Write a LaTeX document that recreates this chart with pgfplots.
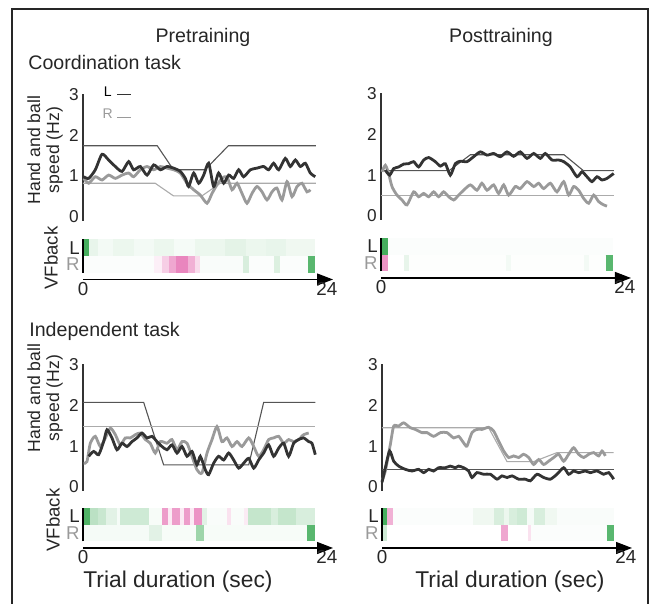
\documentclass[border=0pt]{standalone}
\usepackage{fontspec}
\setmainfont{Liberation Sans}
\usepackage{pgfplots}
\pgfplotsset{compat=1.18}
\usetikzlibrary{arrows.meta}

\definecolor{txt}{HTML}{262626}
\definecolor{dk}{HTML}{333333}
\definecolor{lt}{HTML}{9A9A9A}
\definecolor{dktgt}{HTML}{555555}
\definecolor{lttgt}{HTML}{ABABAB}

\pgfplotsset{
  every axis/.append style={font=\fontsize{8.6}{9}\selectfont,
    /pgf/number format/assume math mode=true},
  % upper part of each panel: speed traces
  speedax/.style={anchor=south west, scale only axis,
    width=122pt, height=63.25pt,
    xmin=0, xmax=24, ymin=-0.1, ymax=3,
    hide x axis, axis y line*=left,
    y axis line style={line width=0.6pt, color=dk},
    ytick={0,1,2,3}, major tick length=0pt,
    yticklabel style={inner sep=2pt, text=txt},
    clip=false},
  % lower part: visual feedback strip
  heatax/.style={anchor=south west, scale only axis,
    width=125pt, height=20pt,
    xmin=0, xmax=24.6, ymin=-0.9, ymax=1.5,
    axis x line*=bottom, axis y line*=left,
    y axis line style={draw=none},
    x axis line style={line width=0.6pt, color=black, -{Triangle[length=8pt,width=6pt]}},
    xtick={0,24}, ytick={0,1}, yticklabels={\textcolor{lt}{R},L},
    major tick length=0pt,
    xticklabel style={inner sep=1pt, text=txt, font=\fontsize{9.4}{10}\selectfont},
    yticklabel style={inner sep=1.5pt, text=txt, font=\fontsize{9.3}{10}\selectfont},
    colormap={pg}{rgb255=(220,60,150) rgb255=(255,255,255) rgb255=(60,170,85)},
    point meta min=-1, point meta max=1,
    clip=false},
  strip/.style={mesh, shader=flat mean, line width=8.4pt, point meta=explicit, forget plot},
  dkspeed/.style={color=dk, line width=1.4pt, smooth, tension=0.4, forget plot},
  ltspeed/.style={color=lt, line width=1.4pt, smooth, tension=0.4, forget plot},
  dktarget/.style={color=dktgt, line width=0.55pt, sharp plot, forget plot},
  lttarget/.style={color=lttgt, line width=0.55pt, sharp plot, forget plot},
}

\begin{document}
\begin{tikzpicture}[x=0.5pt, y=0.5pt]
\useasboundingbox (0,0) rectangle (650,604);
\draw[line width=1pt, color=txt] (12,-4) -- (12,594.5) -- (648,594.5) -- (648,-4);

\node[anchor=base, text=txt, font=\fontsize{9.8}{10}\selectfont] at (203,561.7) {Pretraining};
\node[anchor=base, text=txt, font=\fontsize{9.8}{10}\selectfont] at (501,561.7) {Posttraining};
\node[anchor=base west, inner sep=0pt, text=txt, font=\fontsize{9.8}{10}\selectfont] at (28,534) {Coordination task};
\node[anchor=base west, inner sep=0pt, text=txt, font=\fontsize{9.8}{10}\selectfont] at (29,267) {Independent task};
\node[anchor=base, text=txt, font=\fontsize{11.4}{12}\selectfont] at (178,16) {Trial duration (sec)};
\node[anchor=base, text=txt, font=\fontsize{11.4}{12}\selectfont] at (510,16) {Trial duration (sec)};
\node[rotate=90, align=center, text=txt, font=\fontsize{8.8}{9.5}\selectfont] at (45,454) {Hand and ball\\speed (Hz)};
\node[rotate=90, align=center, text=txt, font=\fontsize{8.8}{9.5}\selectfont] at (45,206) {Hand and ball\\speed (Hz)};
\node[rotate=90, text=txt, font=\fontsize{9.3}{10}\selectfont] at (51,346) {VFback};
\node[rotate=90, text=txt, font=\fontsize{9.3}{10}\selectfont] at (53,84) {VFback};

% ---------------- Coordination task, pretraining ----------------
\begin{axis}[speedax, at={(41.5pt,191.6pt)},
  legend plot pos=right,
  legend image code/.code={\draw[#1] (0pt,-1pt) -- (7pt,-1pt);},
  legend style={at={(axis cs:1.5,3.3)}, anchor=north west, draw=none, fill=none,
    inner sep=0pt, row sep=1pt, font=\fontsize{7}{7.5}\selectfont}]
\addplot[dktarget] coordinates {(0,1.74) (7.3,1.74) (8.9,1.15) (12.0,1.15) (14.3,1.74) (22.9,1.74)};
\addplot[lttarget] coordinates {(0,0.82) (7.1,0.82) (8.9,0.51) (11.7,0.51) (13.5,0.82) (22.9,0.82)};
\addplot[ltspeed] coordinates {
(0.07,0.94) (0.56,0.82) (1.21,0.98) (1.87,0.90) (2.52,1.02) (3.18,0.94) (3.84,1.02) (4.49,1.07)
(4.98,0.98) (5.64,1.15) (6.30,1.23) (6.95,1.15) (7.61,1.23) (8.26,1.19) (8.92,1.15) (9.57,1.07)
(10.23,0.82) (10.89,0.66) (11.54,0.53) (12.20,0.33) (12.69,0.57) (13.18,0.78) (13.67,0.94) (14.16,0.98)
(14.66,0.66) (15.15,0.82) (15.64,0.57) (16.13,0.33) (16.62,0.57) (17.11,0.74) (17.61,0.61) (18.10,0.41)
(18.59,0.61) (19.08,0.70) (19.57,0.41) (20.07,0.86) (20.56,0.49) (21.05,0.74) (21.54,0.82) (22.03,0.61)
(22.36,0.66)};
\addplot[dkspeed] coordinates {
(0.07,0.98) (0.56,0.94) (1.21,1.15) (1.87,1.53) (2.52,1.39) (3.18,1.23) (3.84,1.11) (4.49,1.35)
(4.98,1.15) (5.64,1.23) (6.30,1.02) (6.95,1.27) (7.61,1.15) (8.26,1.23) (8.92,1.19) (9.57,1.11)
(10.07,0.94) (10.39,0.74) (10.89,1.07) (11.38,0.82) (11.87,1.02) (12.36,1.31) (12.85,0.74) (13.34,1.07)
(13.84,0.82) (14.33,1.02) (14.82,0.94) (15.31,1.15) (15.80,0.98) (16.46,1.15) (17.11,1.19) (17.77,1.23)
(18.26,1.15) (18.75,1.31) (19.25,1.15) (19.90,1.43) (20.39,1.23) (20.89,1.39) (21.38,1.23) (21.87,1.31)
(22.36,1.07) (22.85,0.98)};
\addlegendimage{color=dk, line width=0.6pt}
\addlegendentry{L}
\addlegendimage{color=lt, line width=0.6pt}
\addlegendentry{\textcolor{lt}{R}}
\end{axis}

\begin{axis}[heatax, at={(41.5pt,162.25pt)}]
\addplot[strip] coordinates {(0,1)[0.95] (0.6,1)[0.95] (0.6,1)[0.12] (1.5,1)[0.12] (1.5,1)[0.06] (3,1)[0.06]
 (3,1)[0.1] (5,1)[0.1] (5,1)[0.06] (7,1)[0.06] (7,1)[0.1] (9,1)[0.1] (9,1)[0.05] (11,1)[0.05]
 (11,1)[0.1] (14,1)[0.1] (14,1)[0.14] (16,1)[0.14] (16,1)[0.1] (18,1)[0.1] (18,1)[0.12] (20,1)[0.12]
 (20,1)[0.08] (22.8,1)[0.08]};
\addplot[strip] coordinates {(0,0)[0.02] (7,0)[0.02] (7,0)[-0.08] (7.8,0)[-0.08] (7.8,0)[-0.25] (8.5,0)[-0.25]
 (8.5,0)[-0.45] (9.2,0)[-0.45] (9.2,0)[-0.62] (10.3,0)[-0.62] (10.3,0)[-0.4] (11,0)[-0.4]
 (11,0)[-0.18] (11.5,0)[-0.18] (11.5,0)[0.03] (15.7,0)[0.03] (15.7,0)[0.2] (16.3,0)[0.2]
 (16.3,0)[0.02] (18.8,0)[0.02] (18.8,0)[0.18] (19.4,0)[0.18] (19.4,0)[0.02] (22.1,0)[0.02]
 (22.1,0)[0.85] (22.8,0)[0.85]};
\draw[line width=0.6pt] (axis cs:0,-0.5) -- (axis cs:0,1.5);
\end{axis}

% ---------------- Coordination task, posttraining ----------------
\begin{axis}[speedax, at={(190.5pt,192pt)}]
\addplot[dktarget] coordinates {(0,1.11) (6.7,1.11) (8.8,1.50) (18.0,1.50) (19.9,1.11) (22.9,1.11)};
\addplot[lttarget] coordinates {(0,0.49) (22.9,0.49)};
\addplot[ltspeed] coordinates {
(0.10,1.08) (0.43,1.24) (0.75,1.04) (1.08,0.72) (1.57,0.51) (2.07,0.39) (2.56,0.27) (3.21,0.59)
(3.70,0.47) (4.20,0.55) (4.69,0.47) (5.18,0.59) (5.67,0.47) (6.16,0.59) (6.66,0.47) (7.15,0.39)
(7.64,0.51) (8.13,0.63) (8.79,0.76) (9.44,0.63) (9.93,0.80) (10.43,0.63) (11.08,0.76) (11.57,0.55)
(12.07,0.76) (12.56,0.51) (13.21,0.72) (13.70,0.67) (14.36,0.84) (15.02,0.72) (15.51,0.80) (16.00,0.67)
(16.66,0.80) (17.31,0.59) (17.97,0.84) (18.46,0.51) (18.95,0.72) (19.44,0.63) (19.93,0.43) (20.43,0.31)
(20.92,0.51) (21.41,0.35) (21.90,0.27) (22.23,0.24)};
\addplot[dkspeed] coordinates {
(0.43,1.12) (0.85,1.00) (1.25,1.16) (1.74,1.20) (2.23,1.27) (2.72,1.28) (3.21,1.33) (3.70,1.20)
(4.20,1.37) (4.69,1.43) (5.34,1.33) (5.84,1.22) (6.33,1.28) (6.82,1.00) (7.31,1.28) (7.80,1.34)
(8.46,1.33) (9.11,1.45) (9.77,1.57) (10.43,1.49) (11.08,1.53) (11.74,1.45) (12.39,1.57) (13.05,1.46)
(13.70,1.57) (14.36,1.41) (15.02,1.53) (15.67,1.41) (16.16,1.53) (16.82,1.37) (17.48,1.37) (17.97,1.33)
(18.62,1.20) (19.28,0.96) (19.77,1.08) (20.26,0.96) (20.75,0.84) (21.25,0.96) (21.74,0.88) (22.23,0.92)
(22.89,1.04)};
\end{axis}

\begin{axis}[heatax, at={(190.5pt,163pt)}]
\addplot[strip] coordinates {(0,1)[0.95] (0.7,1)[0.95] (0.7,1)[0.02] (22.8,1)[0.02]};
\addplot[strip] coordinates {(0,0)[-0.55] (0.7,0)[-0.55] (0.7,0)[0] (2.3,0)[0] (2.3,0)[0.12] (2.8,0)[0.12]
 (2.8,0)[0.01] (12.3,0)[0.01] (12.3,0)[0.06] (12.8,0)[0.06] (12.8,0)[0.01] (20,0)[0.01]
 (20,0)[0.06] (20.5,0)[0.06] (20.5,0)[0.01] (22.1,0)[0.01] (22.1,0)[0.85] (22.8,0)[0.85]};
\draw[line width=0.6pt] (axis cs:0,-0.5) -- (axis cs:0,1.5);
\end{axis}

% ---------------- Independent task, pretraining ----------------
\begin{axis}[speedax, at={(41.5pt,56.5pt)}]
\addplot[dktarget] coordinates {(0,2.07) (5.97,2.07) (7.93,0.54) (16.30,0.54) (17.77,2.07) (22.85,2.07)};
\addplot[lttarget] coordinates {(0,1.47) (22.85,1.47)};
\addplot[ltspeed] coordinates {
(0.07,0.58) (0.39,0.62) (0.72,1.07) (1.21,1.24) (1.70,0.99) (2.20,1.20) (2.69,1.44) (3.18,1.28)
(3.67,1.03) (4.16,1.20) (4.66,1.20) (5.15,1.28) (5.64,1.32) (6.13,1.16) (6.62,1.07) (7.11,0.83)
(7.61,1.11) (8.26,1.07) (8.75,1.16) (9.25,0.91) (9.74,1.11) (10.23,1.07) (10.72,0.75) (11.21,0.42)
(11.70,0.34) (12.20,0.83) (12.69,1.16) (13.18,1.48) (13.67,1.11) (14.16,1.20) (14.66,0.99) (15.15,1.11)
(15.64,0.99) (16.30,1.20) (16.79,0.99) (17.28,0.75) (17.77,0.91) (18.26,1.16) (18.75,1.20) (19.25,1.24)
(19.74,1.07) (20.23,1.16) (20.72,1.11) (21.21,1.16) (21.70,1.28) (22.20,1.32)};
\addplot[dkspeed] coordinates {
(0.56,0.75) (1.05,0.87) (1.54,0.79) (2.03,1.11) (2.36,1.40) (2.85,1.20) (3.34,0.91) (3.84,1.07)
(4.33,0.99) (4.82,1.11) (5.31,1.20) (5.80,1.32) (6.30,1.20) (6.79,1.24) (7.28,1.11) (7.77,0.99)
(8.26,0.91) (8.75,1.03) (9.25,0.83) (9.74,0.99) (10.23,0.75) (10.72,0.87) (11.21,0.54) (11.54,0.75)
(12.03,0.42) (12.36,0.30) (12.85,0.58) (13.34,0.75) (13.84,0.66) (14.33,0.83) (14.82,0.66) (15.31,0.46)
(15.80,0.58) (16.30,0.70) (16.79,0.46) (17.28,0.66) (17.77,0.83) (18.26,1.03) (18.75,0.75) (19.25,0.95)
(19.74,1.07) (20.23,0.75) (20.72,1.07) (21.21,1.16) (21.70,1.20) (22.20,1.11) (22.52,1.07) (22.85,0.79)};
\end{axis}

\begin{axis}[heatax, at={(41.5pt,28pt)}]
\addplot[strip] coordinates {(0,1)[0.9] (0.7,1)[0.9] (0.7,1)[0.35] (1.5,1)[0.35] (1.5,1)[0.28] (2.3,1)[0.28]
 (2.3,1)[0.15] (3.3,1)[0.15] (3.3,1)[0.05] (3.6,1)[0.05] (3.6,1)[0.25] (6.5,1)[0.25]
 (6.5,1)[0.04] (7.8,1)[0.04] (7.8,1)[-0.5] (8.4,1)[-0.5] (8.4,1)[-0.1] (8.8,1)[-0.1]
 (8.8,1)[-0.5] (9.5,1)[-0.5] (9.5,1)[-0.1] (9.9,1)[-0.1] (9.9,1)[-0.5] (10.5,1)[-0.5]
 (10.5,1)[-0.1] (10.9,1)[-0.1] (10.9,1)[-0.55] (11.7,1)[-0.55] (11.7,1)[0.15] (12.2,1)[0.15]
 (12.2,1)[0.03] (14.2,1)[0.03] (14.2,1)[-0.15] (14.6,1)[-0.15] (14.6,1)[0.03] (15.8,1)[0.03]
 (15.8,1)[-0.1] (16.2,1)[-0.1] (16.2,1)[0.3] (18.5,1)[0.3] (18.5,1)[0.2] (19.2,1)[0.2]
 (19.2,1)[0.3] (21,1)[0.3] (21,1)[0.2] (22.8,1)[0.2]};
\addplot[strip] coordinates {(0,0)[0.05] (6.5,0)[0.05] (6.5,0)[0.15] (7.8,0)[0.15] (7.8,0)[0.04] (11.1,0)[0.04]
 (11.1,0)[0.5] (11.9,0)[0.5] (11.9,0)[0.04] (22,0)[0.04] (22,0)[0.85] (22.85,0)[0.85]};
\draw[line width=0.6pt] (axis cs:0,-0.5) -- (axis cs:0,1.5);
\end{axis}

% ---------------- Independent task, posttraining ----------------
\begin{axis}[speedax, at={(191pt,56.5pt)}]
\addplot[lttarget] coordinates {(0,1.45) (10.49,1.45) (12.30,0.62) (14.92,0.62) (17.21,0.84) (22.79,0.84)};
\addplot[dktarget] coordinates {(0,0.43) (22.79,0.43)};
\addplot[ltspeed] coordinates {
(0.00,0.15) (0.33,0.39) (0.82,1.04) (1.15,1.49) (1.64,1.49) (2.13,1.57) (2.79,1.45) (3.28,1.41)
(3.93,1.33) (4.43,1.33) (5.08,1.24) (5.74,1.33) (6.39,1.33) (7.05,1.20) (7.54,1.24) (8.03,1.08)
(8.36,1.00) (8.85,1.33) (9.34,1.41) (9.84,1.41) (10.49,1.46) (10.98,1.37) (11.48,1.12) (11.97,0.88)
(12.46,0.72) (12.95,0.76) (13.44,0.72) (13.93,0.80) (14.43,0.72) (14.92,0.55) (15.41,0.67) (15.90,0.55)
(16.39,0.63) (16.89,0.72) (17.38,0.80) (17.87,0.63) (18.36,0.80) (18.85,0.96) (19.34,0.80) (19.84,0.72)
(20.33,0.80) (20.82,0.84) (21.31,0.76) (21.64,0.88) (21.97,0.76)};
\addplot[dkspeed] coordinates {
(0.00,0.11) (0.33,0.47) (0.75,0.88) (1.15,0.63) (1.64,0.51) (2.30,0.43) (2.95,0.39) (3.61,0.43)
(4.10,0.35) (4.59,0.43) (5.08,0.39) (5.57,0.47) (6.23,0.47) (6.72,0.51) (7.21,0.47) (7.54,0.51)
(8.03,0.47) (8.52,0.39) (8.85,0.23) (9.34,0.35) (10.00,0.31) (10.66,0.31) (11.31,0.19) (11.80,0.27)
(12.30,0.23) (12.79,0.27) (13.44,0.19) (14.10,0.19) (14.59,0.15) (15.25,0.31) (15.90,0.23) (16.56,0.19)
(17.21,0.31) (17.87,0.47) (18.36,0.31) (18.85,0.39) (19.34,0.35) (20.00,0.39) (20.49,0.35) (21.15,0.39)
(21.80,0.31) (22.30,0.35) (22.79,0.19)};
\end{axis}

\begin{axis}[heatax, at={(191pt,28pt)}]
\addplot[strip] coordinates {(0,1)[0.95] (0.5,1)[0.95] (0.5,1)[-0.4] (1.1,1)[-0.4] (1.1,1)[0.02] (9,1)[0.02]
 (9,1)[0.08] (11,1)[0.08] (11,1)[0.2] (12,1)[0.2] (12,1)[0.1] (12.5,1)[0.1] (12.5,1)[0.2] (13.3,1)[0.2]
 (13.3,1)[0.25] (14.3,1)[0.25] (14.3,1)[0.05] (15,1)[0.05] (15,1)[0.2] (16,1)[0.2] (16,1)[0.08] (17.2,1)[0.08]
 (17.2,1)[0.03] (22.8,1)[0.03]};
\addplot[strip] coordinates {(0,0)[0.25] (0.5,0)[0.25] (0.5,0)[0] (11.7,0)[0] (11.7,0)[-0.45] (12.4,0)[-0.45]
 (12.4,0)[0] (14.4,0)[0] (14.4,0)[-0.15] (14.7,0)[-0.15] (14.7,0)[0.02] (22.1,0)[0.02]
 (22.1,0)[0.85] (22.8,0)[0.85]};
\draw[line width=0.6pt] (axis cs:0,-0.5) -- (axis cs:0,1.5);
\end{axis}
\end{tikzpicture}
\end{document}
